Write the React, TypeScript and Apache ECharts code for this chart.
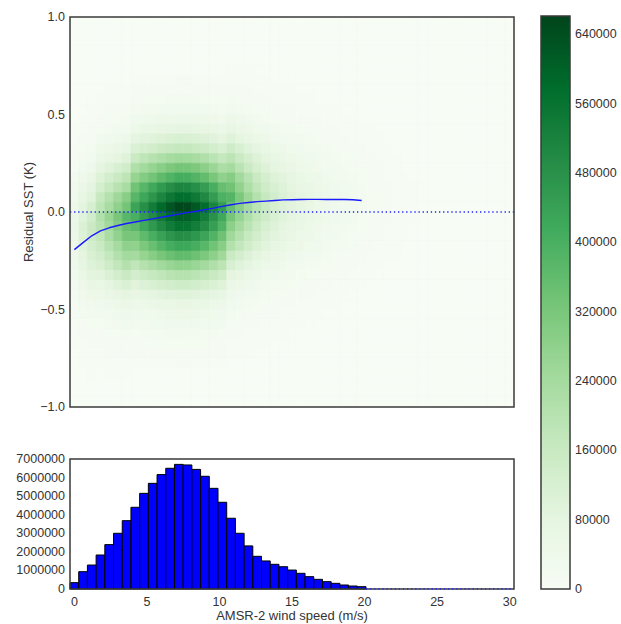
import React, { useEffect, useRef } from "react";
import * as echarts from "echarts";

// ---- data ----
const binWidth = 0.6; // m/s, bins centred on 0, 0.6, 1.2, ...
const nXBins = 51;
const nYBins = 40; // residual bins of 0.05 K from 1.0 down to -1.0
const yBinHeight = 0.05;

const xTickValues = [0, 5, 10, 15, 20, 25, 30];
const colorbarTicks = [0, 80000, 160000, 240000, 320000, 400000, 480000, 560000, 640000];
const colorbarMax = 661000;

// histogram counts per wind-speed bin
const histCounts = [
  341000, 933000, 1290000, 1830000, 2390000, 3000000, 3680000, 4400000, 5150000, 5690000,
  6160000, 6500000, 6710000, 6680000, 6440000, 6070000, 5420000, 4670000, 3810000, 3000000,
  2320000, 1760000, 1510000, 1330000, 1200000, 1020000, 844000, 664000, 520000, 395000,
  305000, 215000, 160000, 125000,
];

// mean residual SST per wind-speed bin
const meanResidual = [
  -0.193, -0.157, -0.122, -0.097, -0.081, -0.069, -0.059, -0.051, -0.043, -0.035,
  -0.027, -0.019, -0.011, -0.003, 0.004, 0.012, 0.02, 0.029, 0.037, 0.044,
  0.049, 0.053, 0.056, 0.059, 0.062, 0.063, 0.064, 0.065, 0.065, 0.064,
  0.064, 0.064, 0.063, 0.059,
];

// 2-D histogram, read from the cell shades:
// count in the densest residual cell of each wind-speed column (thousands)
const columnPeak = [
  60, 110, 155, 210, 265, 320, 375, 430, 485, 535,
  585, 625, 655, 650, 620, 575, 515, 450, 380, 315,
  255, 205, 165, 135, 112, 94, 79, 66, 55, 45,
  37, 30, 24, 19, 15, 11, 8, 6, 4, 3, 2,
];
// residual row (0 = top, 1.0..0.95 K) holding that densest cell
const peakRow = [
  21, 21, 21, 20, 20, 20, 20, 19, 19, 19,
  19, 19, 19, 19, 19, 19, 19, 19, 18, 18,
  18, 18, 18, 18, 18, 18, 18, 18, 18, 18,
  18, 18, 18, 18, 18, 18, 18, 18, 18, 18, 18,
];
// shade of the cells above / below the densest one, relative to it
const profileAbove = [1, 0.875, 0.78, 0.62, 0.5, 0.375, 0.26, 0.18, 0.12, 0.075, 0.045, 0.028, 0.017, 0.01];
const profileBelow = [1, 0.93, 0.86, 0.75, 0.65, 0.55, 0.42, 0.31, 0.22, 0.15, 0.1, 0.07, 0.05, 0.035, 0.025, 0.017, 0.01];

const greens = ["#f7fcf5", "#e5f5e0", "#c7e9c0", "#a1d99b", "#74c476", "#41ab5d", "#238b45", "#006d2c", "#00441b"];

// ---- layout ----
const MAIN = { left: 70, top: 17, width: 444, height: 390 };
const HIST = { left: 70, top: 459, width: 444, height: 130 };
const CB = { left: 541, top: 16, width: 29, height: 573 };
const Y_NAME_X = 28;
const FONT = "Liberation Sans, Arial, sans-serif";
const TXT = "#333333";

export default function App() {
  const ref = useRef<HTMLDivElement>(null);

  useEffect(() => {
    const chart = echarts.init(ref.current!, null, { renderer: "svg" });
    const xMin = -binWidth / 2;
    const xMax = (nXBins - 1) * binWidth + binWidth / 2;
    const histEnd = histCounts.length * binWidth - binWidth / 2;

    const heatData: number[][] = [];
    for (let k = 0; k < nYBins; k++) {
      const yc = 1 - yBinHeight * (k + 0.5);
      for (let i = 0; i < nXBins; i++) {
        let v = 0;
        if (i < columnPeak.length) {
          const d = k - peakRow[i];
          const f = d < 0 ? profileAbove[-d] ?? 0 : profileBelow[d] ?? 0;
          v = Math.round(columnPeak[i] * f) * 1000;
        }
        heatData.push([i * binWidth, yc, v]);
      }
    }
    const histData = histCounts.map((c, i) => [i * binWidth, c]);
    const meanData = meanResidual.map((m, i) => [i * binWidth, m]);

    const labelStyle = { color: TXT, fontSize: 12.5, fontFamily: FONT };
    const hiddenAxis = {
      axisLine: { show: false },
      axisTick: { show: false },
      splitLine: { show: false },
    };
    const minus = (v: number, d: number) => (v < 0 ? "\u2212" : "") + Math.abs(v).toFixed(d);

    const frame = (g: { left: number; top: number; width: number; height: number }) => ({
      type: "rect",
      z: 100,
      shape: { x: g.left, y: g.top, width: g.width, height: g.height },
      style: { fill: "none", stroke: "#3a3a3a", lineWidth: 1.5 },
      silent: true,
    });

    chart.setOption({
      animation: false,
      backgroundColor: "#ffffff",
      grid: [
        { ...MAIN, containLabel: false },
        { ...HIST, containLabel: false },
        { ...CB, containLabel: false },
      ],
      visualMap: {
        type: "continuous",
        show: false,
        seriesIndex: 0,
        dimension: 2,
        min: 0,
        max: colorbarMax,
        inRange: { color: greens },
      },
      xAxis: [
        { type: "value", gridIndex: 0, min: xMin, max: xMax, axisLabel: { show: false }, ...hiddenAxis },
        {
          type: "value",
          gridIndex: 1,
          min: xMin,
          max: xMax,
          ...hiddenAxis,
          axisLabel: { ...labelStyle, margin: 6, customValues: xTickValues, formatter: (v: number) => String(v) },
          name: "AMSR-2 wind speed (m/s)",
          nameLocation: "middle",
          nameGap: 20,
          nameTextStyle: { color: TXT, fontSize: 13, fontFamily: FONT },
        },
        { type: "category", gridIndex: 2, data: ["cb"], show: false },
      ],
      yAxis: [
        {
          type: "value",
          gridIndex: 0,
          min: -1,
          max: 1,
          interval: 0.5,
          ...hiddenAxis,
          axisLabel: { ...labelStyle, margin: 5, formatter: (v: number) => minus(v, 1) },
        },
        {
          type: "value",
          gridIndex: 1,
          min: 0,
          max: 7000000,
          interval: 1000000,
          ...hiddenAxis,
          axisLabel: { ...labelStyle, margin: 5, formatter: (v: number) => String(v) },
        },
        {
          type: "value",
          gridIndex: 2,
          position: "right",
          min: 0,
          max: colorbarMax,
          ...hiddenAxis,
          axisLabel: {
            ...labelStyle,
            margin: 5,
            customValues: colorbarTicks,
            formatter: (v: number) => String(v),
          },
        },
      ],
      series: [
        {
          type: "custom",
          xAxisIndex: 0,
          yAxisIndex: 0,
          data: heatData,
          encode: { x: 0, y: 1 },
          clip: true,
          renderItem: (params: any, api: any) => {
            const x = api.value(0);
            const y = api.value(1);
            const p1 = api.coord([x - binWidth / 2, y + yBinHeight / 2]);
            const p2 = api.coord([x + binWidth / 2, y - yBinHeight / 2]);
            const color = api.visual("color");
            return {
              type: "rect",
              shape: { x: p1[0], y: p1[1], width: p2[0] - p1[0], height: p2[1] - p1[1] },
              style: { fill: color, stroke: color, lineWidth: 0.6 },
            };
          },
          z: 1,
        },
        {
          type: "line",
          xAxisIndex: 0,
          yAxisIndex: 0,
          data: [[xMin, 0], [xMax, 0]],
          showSymbol: false,
          lineStyle: { color: "#1f1fff", width: 1.3, type: [1.3, 2.8] },
          z: 3,
        },
        {
          type: "line",
          xAxisIndex: 0,
          yAxisIndex: 0,
          data: meanData,
          showSymbol: false,
          lineStyle: { color: "#1a1aff", width: 1.4 },
          z: 4,
        },
        {
          type: "line",
          xAxisIndex: 1,
          yAxisIndex: 1,
          data: [[histEnd, 0], [xMax, 0]],
          showSymbol: false,
          lineStyle: { color: "#1f1fff", width: 1.3, type: [1.3, 2.8] },
          z: 101,
        },
        {
          type: "custom",
          xAxisIndex: 1,
          yAxisIndex: 1,
          data: histData,
          encode: { x: 0, y: 1 },
          renderItem: (params: any, api: any) => {
            const x = api.value(0);
            const c = api.value(1);
            const p1 = api.coord([x - binWidth / 2, c]);
            const p2 = api.coord([x + binWidth / 2, 0]);
            return {
              type: "rect",
              shape: { x: p1[0], y: p1[1], width: p2[0] - p1[0], height: p2[1] - p1[1] },
              style: { fill: "#0000ff", stroke: "#000000", lineWidth: 1 },
            };
          },
          z: 2,
        },
        {
          type: "bar",
          xAxisIndex: 2,
          yAxisIndex: 2,
          data: [colorbarMax],
          barWidth: "100%",
          itemStyle: {
            color: new echarts.graphic.LinearGradient(
              0, 1, 0, 0,
              greens.map((c, i) => ({ offset: i / (greens.length - 1), color: c }))
            ),
          },
        },
      ],
      graphic: [
        frame(MAIN),
        frame(HIST),
        frame(CB),
        {
          type: "text",
          x: Y_NAME_X,
          y: MAIN.top + MAIN.height / 2,
          rotation: Math.PI / 2,
          z: 100,
          style: {
            text: "Residual SST (K)",
            fill: TXT,
            fontSize: 13,
            fontFamily: FONT,
            align: "center",
            verticalAlign: "middle",
          },
        },
      ],
    });

    return () => chart.dispose();
  }, []);

  return (
    <div
      ref={ref}
      style={{ position: "absolute", left: 0, top: 0, width: 621, height: 624, background: "#fff" }}
    />
  );
}
